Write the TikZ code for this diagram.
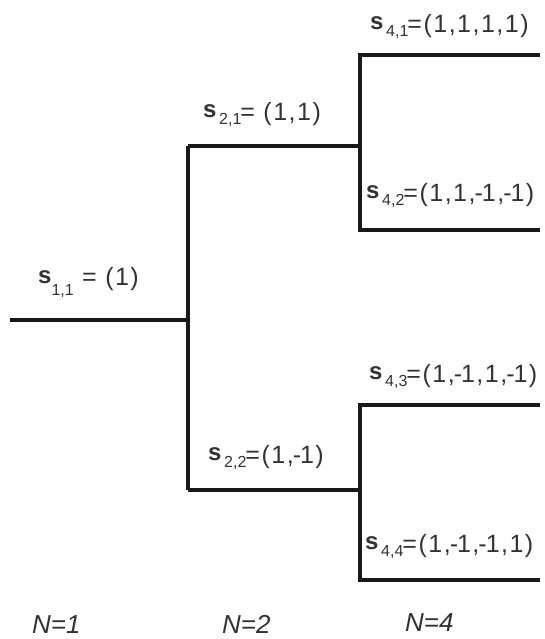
\documentclass[tikz,border=0pt]{standalone}
\usepackage{fontspec}
\setmainfont{Liberation Sans}
\newfontfamily\trk[LetterSpace=6]{Liberation Sans}
\newcommand\hy{\kern-1pt-\kern-1pt}
\newcommand\sv[2]{\raisebox{3pt}{\fontsize{24}{24}\selectfont\bfseries s}\raisebox{-4pt}{\fontsize{16}{16}\selectfont\,#1}\kern-1pt\fontsize{25}{25}\trk #2}
\newcommand\svlow[2]{\raisebox{2pt}{\fontsize{24}{24}\selectfont\bfseries s}\raisebox{-10pt}{\fontsize{16}{16}\selectfont #1}\fontsize{25}{25}\trk #2}
\tikzset{
  br/.style={line width=4.8pt, draw=black!90, line join=miter},
  lab/.style={anchor=base west, inner sep=0pt, text=black!80},
  nlab/.style={anchor=base west, inner sep=0pt, text=black!80, font=\fontsize{26}{26}\selectfont\itshape}
}
\begin{document}
\begin{tikzpicture}[x=1pt,y=-1pt]
\useasboundingbox (0,0) rectangle (544,639);
% junctions
\coordinate (r0) at (10,320);
\coordinate (j1) at (188,320);
\coordinate (a1) at (188,146);
\coordinate (b1) at (188,490);
\coordinate (a2) at (360,146);
\coordinate (b2) at (360,490);
\coordinate (a3) at (360,55);
\coordinate (a4) at (360,230);
\coordinate (b3) at (360,405);
\coordinate (b4) at (360,580);
\coordinate (e1) at (540,55);
\coordinate (e2) at (540,230);
\coordinate (e3) at (540,405);
\coordinate (e4) at (540,580);
% branches
\draw[br] (r0) -- (j1);
\draw[br] (a1) -- (b1);
\draw[br] (a1) -- (a2);
\draw[br] (b1) -- (b2);
\draw[br] (e1) -- (a3) -- (a4) -- (e2);
\draw[br] (e3) -- (b3) -- (b4) -- (e4);
% labels
\node[lab] (l11) at (38,285) {\svlow{1,1}{ = (1)}};
\node[lab] (l21) at (203,121) {\sv{2,1}{= (1,1)}};
\node[lab] (l22) at (208,463) {\sv{2,2}{=(1,\hy1)}};
\node[lab] (l41) at (370,33) {\sv{4,1}{=(1,1,1,1)}};
\node[lab] (l42) at (366,201) {\sv{4,2}{=(1,1,\hy1,\hy1)}};
\node[lab] (l43) at (369,382) {\sv{4,3}{=(1,\hy1,1,\hy1)}};
\node[lab] (l44) at (365,552) {\sv{4,4}{=(1,\hy1,\hy1,1)}};
\node[nlab] (n1) at (32,633) {N=1};
\node[nlab] (n2) at (222,633) {N=2};
\node[nlab] (n4) at (405,631) {N=4};
\end{tikzpicture}
\end{document}
